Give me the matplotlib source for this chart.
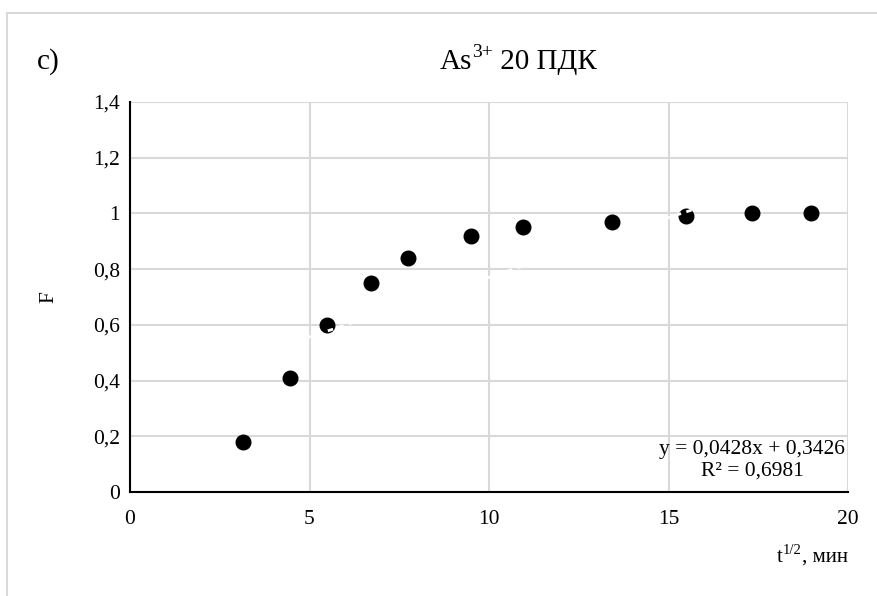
import matplotlib
matplotlib.use('Agg')
import matplotlib.pyplot as plt
from matplotlib.patches import Rectangle
import numpy as np

plt.rcParams['font.family'] = ['Liberation Serif', 'DejaVu Serif']

# данные: t^(1/2), мин и степень достижения равновесия F
t_sqrt = [3.16, 4.47, 5.48, 6.71, 7.75, 9.49, 10.95, 13.42, 15.49, 17.32, 18.97]
F = [0.18, 0.41, 0.60, 0.75, 0.84, 0.92, 0.95, 0.97, 0.99, 1.0, 1.0]
slope, intercept = 0.0428, 0.3426
x_ticks = [0, 5, 10, 15, 20]
y_ticks = [0, 0.2, 0.4, 0.6, 0.8, 1.0, 1.2, 1.4]
y_labels = ['0', '0,2', '0,4', '0,6', '0,8', '1', '1,2', '1,4']

W, H = 877, 596
fig = plt.figure(figsize=(W / 100, H / 100), dpi=100)
ax = fig.add_axes([130 / W, 1 - 492 / H, 718 / W, 390 / H])


def px(x, y):
    # пиксели от левого верхнего угла -> доли фигуры
    return x / W, 1 - y / H


# рамка области диаграммы
fig.patches.append(Rectangle((7 / W, -0.1), 1.2, 1 - 13 / H + 0.1,
                             transform=fig.transFigure, fill=False,
                             edgecolor='#d9d9d9', linewidth=1.5))

ax.plot(t_sqrt, F, 'o', color='black', markersize=10.5, zorder=3)

# линия тренда (белая, почти не видна)
xl = np.array([t_sqrt[0], t_sqrt[-1]])
ax.plot(xl, slope * xl + intercept, color='white', linestyle=(0, (2, 2)),
        linewidth=2, zorder=4)

ax.set_xlim(0, 20)
ax.set_ylim(0, 1.4)
ax.set_xticks(x_ticks)
ax.set_xticklabels([str(v) for v in x_ticks])
ax.set_yticks(y_ticks)
ax.set_yticklabels(y_labels)
ax.tick_params(length=0, labelsize=15.5)
ax.tick_params(axis='x', pad=13)
ax.tick_params(axis='y', pad=7)
ax.grid(True, color='#d9d9d9', linewidth=1.5, zorder=0)
ax.set_axisbelow(True)
for s in ['top', 'right']:
    ax.spines[s].set_visible(False)
for s in ['left', 'bottom']:
    ax.spines[s].set_linewidth(1.5)
    ax.spines[s].set_color('black')

# заголовок
fig.text(*px(37, 69), 'c)', fontsize=21, va='baseline', ha='left')
t1 = fig.text(*px(440, 69), 'As', fontsize=21, va='baseline', ha='left')
t2 = ax.annotate('3+', xy=(1, 0.55), xycoords=t1, fontsize=14,
                 va='bottom', ha='left', annotation_clip=False)
ax.annotate(' 20 ПДК', xy=(1, 0), xycoords=(t2, t1), fontsize=21,
            va='bottom', ha='left', annotation_clip=False)

# подписи осей
fig.text(*px(49, 297), 'F', fontsize=15.5, rotation=90, va='center', ha='center')
a1 = fig.text(*px(777, 562), 't', fontsize=15, va='baseline', ha='left')
a2 = ax.annotate('1/2', xy=(1, 0.55), xycoords=a1, fontsize=10.5,
                 va='bottom', ha='left', annotation_clip=False)
ax.annotate(', мин', xy=(1, 0), xycoords=(a2, a1), fontsize=15,
            va='bottom', ha='left', annotation_clip=False)

# уравнение тренда
fig.text(*px(845, 476), 'y = 0,0428x + 0,3426\nR² = 0,6981', fontsize=15.5,
         ha='right', va='baseline', multialignment='center', linespacing=1.2)

fig.savefig('out.png', dpi=100)
